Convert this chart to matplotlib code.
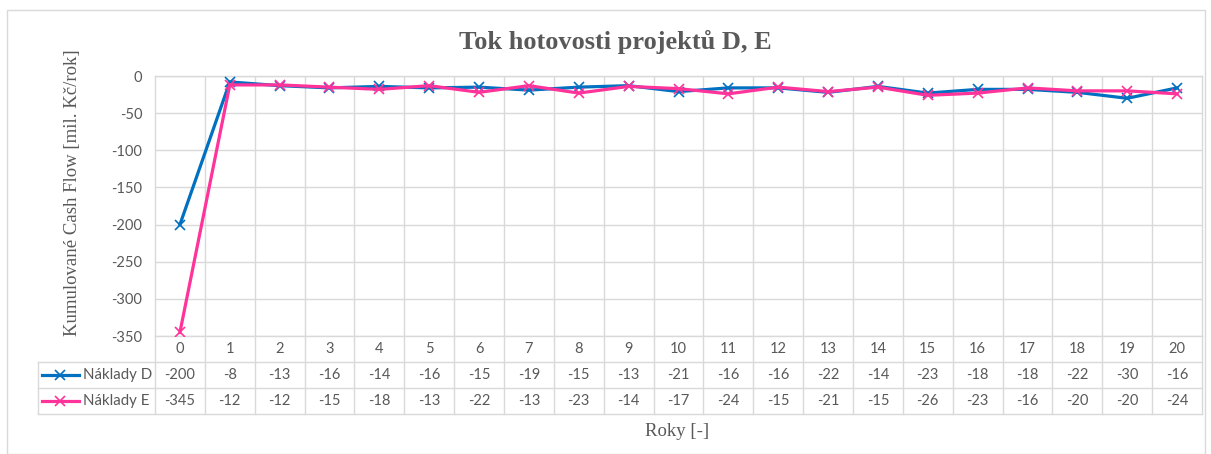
import matplotlib.pyplot as plt
from matplotlib.patches import Rectangle

roky = list(range(0, 21))
naklady_d = [-200, -8, -13, -16, -14, -16, -15, -19, -15, -13, -21,
             -16, -16, -22, -14, -23, -18, -18, -22, -30, -16]
naklady_e = [-345, -12, -12, -15, -18, -13, -22, -13, -23, -14, -17,
             -24, -15, -21, -15, -26, -23, -16, -20, -20, -24]
serie = [("Náklady D", naklady_d, "#0070C0"), ("Náklady E", naklady_e, "#FF3399")]
y_ticks = [0, -50, -100, -150, -200, -250, -300, -350]

plt.rcParams["axes.unicode_minus"] = False

W, H = 1211, 454
grid_c = "#D9D9D9"
text_c = "#595959"
sans = ["Lato", "DejaVu Sans"]
serif = ["Liberation Serif", "DejaVu Serif"]

fig = plt.figure(figsize=(W / 100, H / 100), dpi=100)
fig.patches.append(Rectangle((7 / W, 0), (1205 - 7) / W, (H - 10) / H,
                             transform=fig.transFigure, fill=False,
                             edgecolor=grid_c, linewidth=1))


def box(x0, y0, x1, y1):
    # pixel box (top-left origin) -> figure fractions
    return [x0 / W, 1 - y1 / H, (x1 - x0) / W, (y1 - y0) / H]


ax = fig.add_axes(box(155, 76, 1202, 336))
for name, vals, col in serie:
    ax.plot(roky, vals, color=col, lw=2.3, marker="x", ms=7, mew=1.2,
            solid_joinstyle="round", zorder=3)
ax.set_xlim(-0.5, 20.5)
ax.set_ylim(-350, 0)
ax.set_yticks(y_ticks)
ax.set_xticks([i + 0.5 for i in roky[:-1]])
ax.set_xticklabels([])
ax.grid(True, color=grid_c, lw=1)
ax.tick_params(length=0, labelsize=10.5, labelcolor=text_c, pad=9)
for lab in ax.get_yticklabels():
    lab.set_family(sans)
for s in ax.spines.values():
    s.set_color(grid_c)
    s.set_linewidth(1)

# data table under the chart, sharing the category scale
tab = fig.add_axes(box(155, 336, 1202, 414), sharex=ax)
tab.set_ylim(3, 0)
tab.axis("off")
for i in roky:
    tab.text(i, 0.5, str(i), ha="center", va="center", fontsize=10.5,
             color=text_c, family=sans)
x_leg = -2.85
for r in (1, 2, 3):
    tab.plot([x_leg, 20.5], [r, r], color=grid_c, lw=1, clip_on=False)
tab.plot([x_leg, x_leg], [1, 3], color=grid_c, lw=1, clip_on=False)
for b in [i - 0.5 for i in roky] + [20.5]:
    tab.plot([b, b], [0, 3], color=grid_c, lw=1, clip_on=False)
for r, (name, vals, col) in enumerate(serie, start=1):
    yc = r + 0.5
    tab.plot([x_leg + 0.08, x_leg + 0.82], [yc, yc], color=col, lw=2.3,
             clip_on=False)
    tab.plot([x_leg + 0.45], [yc], color=col, marker="x", ms=7, mew=1.2,
             clip_on=False)
    tab.text(x_leg + 0.9, yc, name, ha="left", va="center", fontsize=10.8,
             color=text_c, family=sans)
    for i, v in zip(roky, vals):
        tab.text(i, yc, str(v), ha="center", va="center", fontsize=10.5,
                 color=text_c, family=sans)

fig.text(615 / W, 1 - 42 / H, "Tok hotovosti projektů D, E", ha="center",
         va="center", fontsize=19, fontweight="bold", color=text_c, family=serif)
fig.text(73 / W, 1 - 193 / H, "Kumulované Cash Flow [mil. Kč/rok]",
         rotation=90, ha="center", va="center", fontsize=13.5, color=text_c,
         family=serif)
fig.text(677 / W, 1 - 432 / H, "Roky [-]", ha="center", va="center",
         fontsize=13.5, color=text_c, family=serif)

fig.savefig("out.png", dpi=100)
